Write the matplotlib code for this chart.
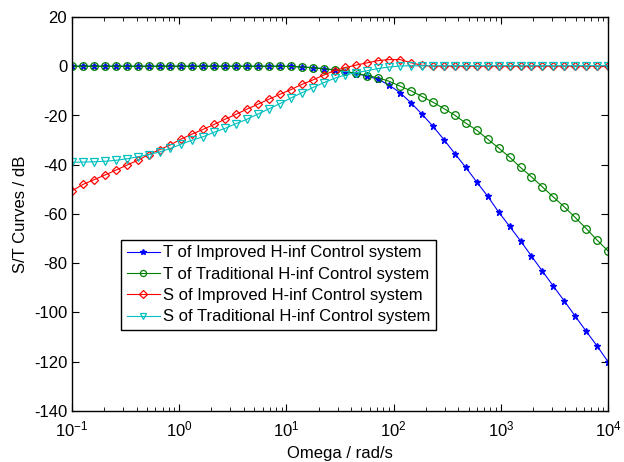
import numpy as np
import matplotlib
matplotlib.use("Agg")
import matplotlib.pyplot as plt

plt.rcParams['font.family'] = ['Liberation Sans', 'DejaVu Sans']
plt.rcParams['mathtext.default'] = 'regular'
plt.rcParams['axes.unicode_minus'] = False
plt.rcParams['font.size'] = 12

# frequency grid (MATLAB logspace(-1,4,50))
omega = np.logspace(-1, 4, 50)

# T of Improved H-inf Control system (dB)
t_improved = [0] * 20 + [
    -0.1, -0.3, -0.6, -1.0, -1.5, -2.2, -3.0, -4.0, -5.3, -7.7,
    -10.8, -14.9, -19.5, -24.4, -29.8, -35.5, -41.1, -47.0, -52.8, -59.2,
    -65.0, -70.9, -77.1, -83.2, -89.3, -95.3, -101.5, -107.6, -113.6, -120.0]

# T of Traditional H-inf Control system (dB)
t_traditional = [0] * 20 + [
    -0.1, -0.3, -0.6, -1.0, -1.5, -2.1, -2.9, -3.8, -4.7, -6.1,
    -8.1, -10.0, -12.3, -14.6, -17.2, -19.9, -23.1, -26.0, -29.6, -33.2,
    -36.9, -41.1, -44.9, -49.0, -53.1, -57.1, -61.4, -65.9, -70.6, -75.0]

# S of Improved H-inf Control system (dB)
s_improved = [
    -50.6, -48.0, -46.1, -44.2, -42.2, -40.2, -38.2, -35.9, -33.9, -31.9,
    -29.5, -27.5, -25.6, -23.6, -21.5, -19.5, -17.4, -15.4, -13.4, -11.4,
    -9.5, -7.4, -5.6, -3.6, -1.8, -0.5, 0.5, 1.4, 2.3, 2.7,
    2.7, 1.4, 0.4, 0.0, 0.0, 0.0, 0.0, 0.0, 0.0, 0.0,
    0.0, 0.0, 0.0, 0.0, 0.0, 0.0, 0.0, 0.0, 0.0, 0.0]

# S of Traditional H-inf Control system (dB)
s_traditional = [
    -39.0, -38.9, -38.8, -38.6, -38.2, -37.6, -36.8, -35.9, -34.8, -33.4,
    -31.6, -30.0, -28.6, -26.8, -25.2, -23.3, -21.5, -19.4, -17.3, -15.2,
    -12.9, -10.8, -8.7, -6.7, -4.9, -3.5, -2.6, -1.8, -0.9, -0.3,
    0.1, 0.2, 0.2, 0.2, 0.2, 0.2, 0.2, 0.2, 0.2, 0.2,
    0.2, 0.2, 0.2, 0.2, 0.2, 0.2, 0.2, 0.2, 0.2, 0.2]

labels = ["T of Improved H-inf Control system",
          "T of Traditional H-inf Control system",
          "S of Improved H-inf Control system",
          "S of Traditional H-inf Control system"]

fig = plt.figure(figsize=(6.24, 4.62), dpi=100)
ax = fig.add_axes([0.1154, 0.1104, 0.859, 0.8528])

ax.semilogx(omega, t_improved, '-*', color=(0, 0, 1), lw=0.8, ms=5,
            label=labels[0])
ax.semilogx(omega, t_traditional, '-o', color=(0, 0.5, 0), lw=0.8, ms=5.5,
            mfc='none', mew=0.9, label=labels[1])
ax.semilogx(omega, s_improved, '-D', color=(1, 0, 0), lw=0.8, ms=4.5,
            mfc='none', mew=0.9, label=labels[2])
ax.semilogx(omega, s_traditional, '-v', color=(0, 0.75, 0.75), lw=0.8, ms=5.5,
            mfc='none', mew=0.9, label=labels[3])

ax.set_xlim(1e-1, 1e4)
ax.set_ylim(-140, 20)
ax.set_yticks(np.arange(-140, 21, 20))
ax.tick_params(which='both', direction='in', top=True, right=True)
ax.tick_params(which='major', length=5)
ax.tick_params(which='minor', length=3)
ax.tick_params(axis='x', which='major', pad=6)
for s in ax.spines.values():
    s.set_linewidth(1.0)

ax.set_xlabel("Omega / rad/s", labelpad=5)
ax.set_ylabel("S/T Curves / dB", labelpad=4)

leg = ax.legend(loc='lower left', bbox_to_anchor=(0.091, 0.205),
                fancybox=False, edgecolor='black', framealpha=1,
                handlelength=2.0, handletextpad=0.2, borderpad=0.35,
                labelspacing=0.38, borderaxespad=0, markerscale=0.8)
leg.get_frame().set_linewidth(1.0)

fig.savefig("out.png", dpi=100)
